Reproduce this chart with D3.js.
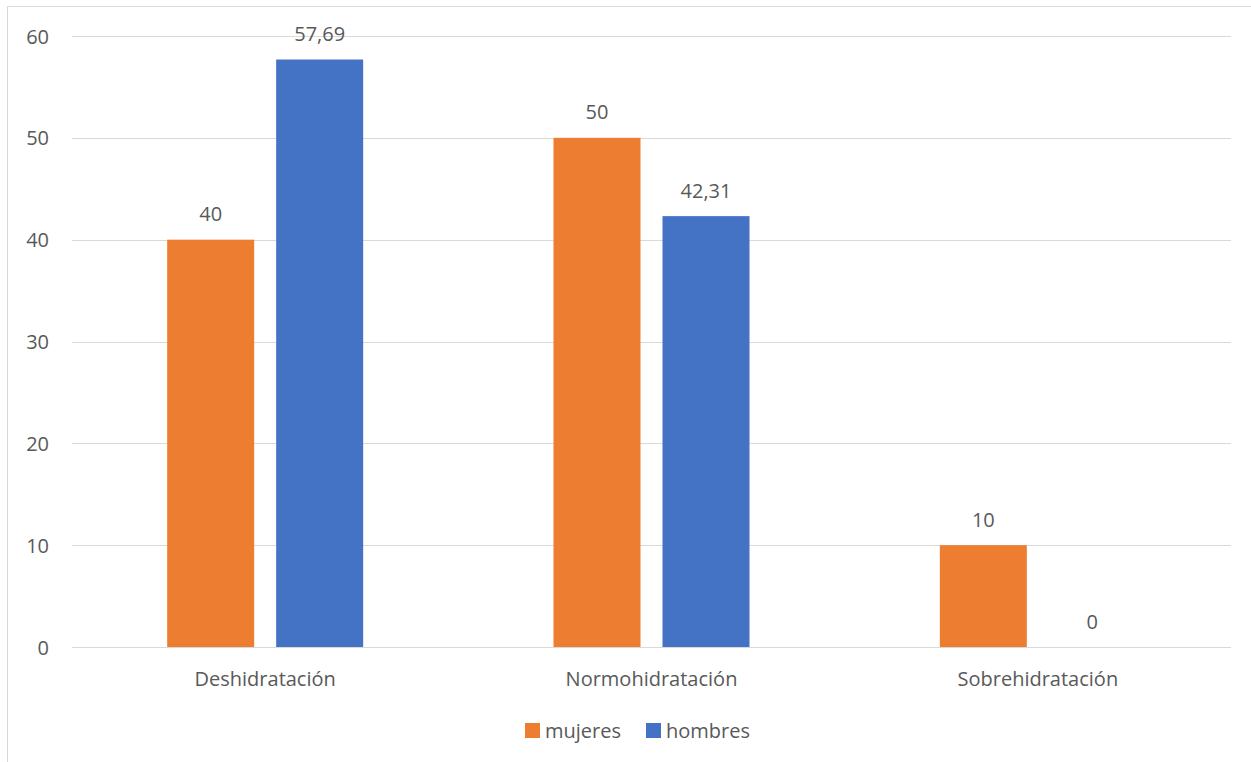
<!DOCTYPE html>
<html>
<head>
<meta charset="utf-8">
<script src="https://cdn.jsdelivr.net/npm/d3@7"></script>
<style>
  html, body { margin: 0; padding: 0; background: #fff; }
  svg { display: block; }
  text { font-family: "Open Sans", "Noto Sans", sans-serif; fill: #595959; }
</style>
</head>
<body>
<svg id="chart" width="1251" height="762"></svg>
<script>
// Hydration status by sex (%)
const categories = ["Deshidratación", "Normohidratación", "Sobrehidratación"];
const seriesNames = ["mujeres", "hombres"];
const mujeres = [40, 50, 10];
const hombres = [57.69, 42.31, 0];
const labelsMujeres = ["40", "50", "10"];
const labelsHombres = ["57,69", "42,31", "0"];
const yTicks = [0, 10, 20, 30, 40, 50, 60];
const colors = ["#ED7D31", "#4472C4"];

const svg = d3.select("#chart");
const W = 1251, H = 762;
const FS = "20px";

// outer chart frame (only top and left edges fall inside the view)
svg.append("rect")
  .attr("x", 7.5).attr("y", 6.5)
  .attr("width", W + 20).attr("height", H + 20)
  .attr("fill", "#fff").attr("stroke", "#D9D9D9").attr("stroke-width", 1);

const plot = { left: 72, right: 1231, top: 36, bottom: 647 };

const y = d3.scaleLinear().domain([0, 60]).range([plot.bottom, plot.top]);
const x0 = d3.scaleBand().domain(categories).range([plot.left, plot.right]).padding(0);
const groupW = 196;
const x1 = d3.scaleBand().domain(seriesNames)
  .range([(x0.bandwidth() - groupW) / 2, (x0.bandwidth() + groupW) / 2])
  .paddingInner(0.2018).paddingOuter(0);

// gridlines
svg.append("g").selectAll("line").data(yTicks).join("line")
  .attr("x1", plot.left).attr("x2", plot.right)
  .attr("y1", d => Math.round(y(d)) + 0.5).attr("y2", d => Math.round(y(d)) + 0.5)
  .attr("stroke", "#D9D9D9").attr("stroke-width", 1);

// y tick labels
svg.append("g").selectAll("text").data(yTicks).join("text")
  .attr("x", 49).attr("y", d => y(d))
  .attr("text-anchor", "end").attr("dominant-baseline", "central")
  .style("font-size", FS)
  .text(d => d);

const rows = categories.map((c, i) => ({
  cat: c,
  vals: [
    { s: "mujeres", v: mujeres[i], lab: labelsMujeres[i], col: colors[0] },
    { s: "hombres", v: hombres[i], lab: labelsHombres[i], col: colors[1] }
  ]
}));

const groups = svg.append("g").selectAll("g").data(rows).join("g")
  .attr("transform", d => `translate(${x0(d.cat)},0)`);

groups.selectAll("rect").data(d => d.vals).join("rect")
  .attr("x", d => x1(d.s)).attr("width", x1.bandwidth())
  .attr("y", d => y(d.v)).attr("height", d => plot.bottom - y(d.v))
  .attr("fill", d => d.col);

groups.selectAll("text").data(d => d.vals).join("text")
  .attr("x", d => x1(d.s) + x1.bandwidth() / 2)
  .attr("y", d => y(d.v) - 26)
  .attr("text-anchor", "middle").attr("dominant-baseline", "central")
  .style("font-size", FS)
  .text(d => d.lab);

// category labels
svg.append("g").selectAll("text").data(categories).join("text")
  .attr("x", d => x0(d) + x0.bandwidth() / 2)
  .attr("y", 678)
  .attr("text-anchor", "middle").attr("dominant-baseline", "central")
  .style("font-size", FS)
  .text(d => d);

// legend
const legendItems = [
  { name: "mujeres", col: colors[0], x: 525 },
  { name: "hombres", col: colors[1], x: 646 }
];
const lg = svg.append("g").selectAll("g").data(legendItems).join("g")
  .attr("transform", d => `translate(${d.x},723)`);
lg.append("rect").attr("width", 15).attr("height", 15).attr("fill", d => d.col);
lg.append("text").attr("x", 20).attr("y", 7.5)
  .attr("dominant-baseline", "central")
  .style("font-size", FS)
  .text(d => d.name);
</script>
</body>
</html>
